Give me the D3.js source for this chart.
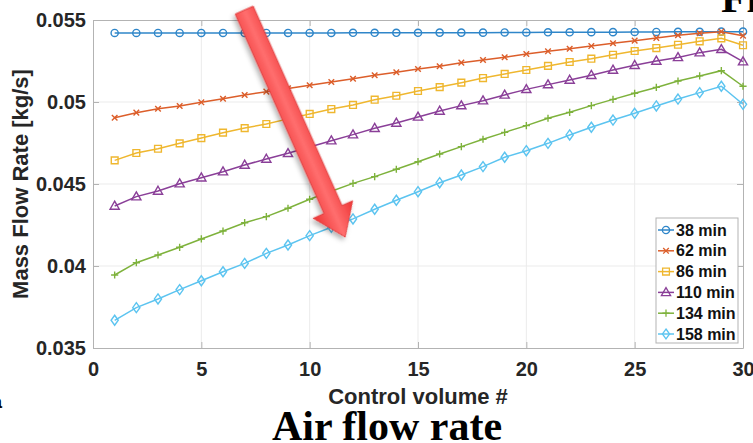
<!DOCTYPE html>
<html>
<head>
<meta charset="utf-8">
<script src="https://cdn.jsdelivr.net/npm/d3@7"></script>
<style>
  body { margin: 0; background: #fff; }
  svg { display: block; }
</style>
</head>
<body>
<div id="chart"></div>
<script>
// control volume numbers along the pipe
var cv = [1,2,3,4,5,6,7,8,9,10,11,12,13,14,15,16,17,18,19,20,21,22,23,24,25,26,27,28,29,30];

// mass flow rate [kg/s], one array per time
var s38  = [0.05421,0.05421,0.05421,0.05421,0.05421,0.05421,0.05421,0.05421,0.05421,0.05421,0.05421,0.05422,0.05422,0.05422,0.05422,0.05423,0.05423,0.05423,0.05424,0.05424,0.05425,0.05425,0.05426,0.05426,0.05427,0.05427,0.05428,0.05428,0.05429,0.05429];
var s62  = [0.04904,0.04935,0.04959,0.04976,0.04998,0.05020,0.05043,0.05063,0.05083,0.05102,0.05122,0.05142,0.05163,0.05181,0.05201,0.05218,0.05240,0.05256,0.05273,0.05293,0.05309,0.05325,0.05341,0.05358,0.05374,0.05390,0.05407,0.05419,0.05429,0.05404];
var s86  = [0.04644,0.04689,0.04715,0.04748,0.04780,0.04813,0.04841,0.04866,0.04897,0.04927,0.04957,0.04982,0.05014,0.05038,0.05067,0.05091,0.05118,0.05146,0.05171,0.05195,0.05220,0.05244,0.05264,0.05288,0.05311,0.05329,0.05349,0.05370,0.05388,0.05346];
var s110 = [0.04366,0.04423,0.04457,0.04502,0.04538,0.04575,0.04616,0.04652,0.04687,0.04726,0.04764,0.04801,0.04840,0.04872,0.04909,0.04945,0.04978,0.05008,0.05043,0.05077,0.05106,0.05134,0.05163,0.05195,0.05224,0.05250,0.05272,0.05301,0.05321,0.05246];
var s134 = [0.03945,0.04020,0.04067,0.04114,0.04165,0.04213,0.04264,0.04301,0.04352,0.04407,0.04456,0.04504,0.04545,0.04590,0.04636,0.04683,0.04728,0.04773,0.04815,0.04856,0.04901,0.04937,0.04978,0.05016,0.05053,0.05089,0.05128,0.05159,0.05191,0.05096];
var s158 = [0.03669,0.03746,0.03799,0.03856,0.03910,0.03965,0.04016,0.04077,0.04128,0.04185,0.04236,0.04287,0.04346,0.04401,0.04453,0.04508,0.04555,0.04606,0.04663,0.04703,0.04748,0.04799,0.04846,0.04890,0.04931,0.04976,0.05018,0.05057,0.05096,0.04986];

var names = ["38 min","62 min","86 min","110 min","134 min","158 min"];
var xTicks = [0,5,10,15,20,25,30];
var yTicks = [0.035,0.04,0.045,0.05,0.055];

var series = [s38, s62, s86, s110, s134, s158];
var colors = ["#2f86c9","#dc5e2a","#efb72f","#8a3f98","#7eb23c","#5cc4f0"]; // matlab-ish
var markers = ["circle","x","square","triangle","plus","diamond"];

var W = 753, H = 443;
var pLeft = 93, pRight = 743, pTop = 20, pBottom = 348; // plot box (don't call it "top", window.top is taken)

var svg = d3.select("#chart").append("svg")
    .attr("width", W)
    .attr("height", H);

var x = d3.scaleLinear().domain([0, 30]).range([pLeft, pRight]);
var y = d3.scaleLinear().domain([0.035, 0.055]).range([pBottom, pTop]);

// grid
svg.append("g").selectAll("line").data(xTicks.slice(1, -1)).enter().append("line")
    .attr("x1", function(d) { return x(d); }).attr("x2", function(d) { return x(d); })
    .attr("y1", pTop).attr("y2", pBottom)
    .attr("stroke", "#ebebeb").attr("stroke-width", 1);
svg.append("g").selectAll("line").data(yTicks.slice(1, -1)).enter().append("line")
    .attr("x1", pLeft).attr("x2", pRight)
    .attr("y1", function(d) { return y(d); }).attr("y2", function(d) { return y(d); })
    .attr("stroke", "#ebebeb").attr("stroke-width", 1);

// axes, ticks pointing inwards like matlab
var fmt = function(d) { return String(+d.toFixed(3)); };
var xAxis = d3.axisBottom(x).tickValues(xTicks).tickSizeInner(-6).tickSizeOuter(0).tickPadding(14);
var yAxis = d3.axisLeft(y).tickValues(yTicks).tickSizeInner(-6).tickSizeOuter(0).tickPadding(7).tickFormat(fmt);

svg.append("g").attr("class", "axis")
    .attr("transform", "translate(0," + pBottom + ")")
    .call(xAxis);
svg.append("g").attr("class", "axis")
    .attr("transform", "translate(" + pLeft + ",0)")
    .call(yAxis);
// top and right ticks, no labels
svg.append("g").attr("class", "axis")
    .attr("transform", "translate(0," + pTop + ")")
    .call(d3.axisTop(x).tickValues(xTicks).tickSizeInner(-6).tickSizeOuter(0).tickFormat(""));
svg.append("g").attr("class", "axis")
    .attr("transform", "translate(" + pRight + ",0)")
    .call(d3.axisRight(y).tickValues(yTicks).tickSizeInner(-6).tickSizeOuter(0).tickFormat(""));

svg.selectAll(".axis path").attr("stroke", "#b3b3b3");
svg.selectAll(".axis line").attr("stroke", "#b3b3b3");
svg.selectAll(".axis text")
    .attr("font-family", "'Liberation Sans', Arial, sans-serif")
    .attr("font-weight", "bold")
    .attr("font-size", 20)
    .attr("fill", "#262626");

// marker shapes
function markerPath(type, cx, cy) {
    var p = d3.path();
    if (type === "circle") {
        p.moveTo(cx + 3.6, cy); p.arc(cx, cy, 3.6, 0, 2 * Math.PI);
    } else if (type === "x") {
        p.moveTo(cx - 2.8, cy - 2.8); p.lineTo(cx + 2.8, cy + 2.8);
        p.moveTo(cx - 2.8, cy + 2.8); p.lineTo(cx + 2.8, cy - 2.8);
    } else if (type === "square") {
        p.rect(cx - 3.4, cy - 3.4, 6.8, 6.8);
    } else if (type === "triangle") {
        p.moveTo(cx, cy - 4.8); p.lineTo(cx + 4.6, cy + 3.2); p.lineTo(cx - 4.6, cy + 3.2); p.closePath();
    } else if (type === "plus") {
        p.moveTo(cx - 3.6, cy); p.lineTo(cx + 3.6, cy);
        p.moveTo(cx, cy - 3.6); p.lineTo(cx, cy + 3.6);
    } else if (type === "diamond") {
        p.moveTo(cx, cy - 5); p.lineTo(cx + 3.6, cy); p.lineTo(cx, cy + 5); p.lineTo(cx - 3.6, cy); p.closePath();
    }
    return p.toString();
}

var line = d3.line()
    .x(function(d, i) { return x(cv[i]); })
    .y(function(d) { return y(d); });

series.forEach(function(s, k) {
    var g = svg.append("g");
    g.append("path")
        .attr("d", line(s))
        .attr("fill", "none")
        .attr("stroke", colors[k])
        .attr("stroke-width", 1.5);
    g.selectAll("path.m").data(s).enter().append("path")
        .attr("class", "m")
        .attr("d", function(d, i) { return markerPath(markers[k], x(cv[i]), y(d)); })
        .attr("fill", "none")
        .attr("stroke", colors[k])
        .attr("stroke-width", 1.4);
});

// the red arrow, placed in data units
var arrowTail = [6.98, 0.0556];
var arrowTip = [11.64, 0.04177];

var defs = svg.append("defs");
var shadow = defs.append("filter").attr("id", "arrowShadow")
    .attr("x", "-20%").attr("y", "-20%").attr("width", "140%").attr("height", "140%");
shadow.append("feDropShadow").attr("dx", 2).attr("dy", 3).attr("stdDeviation", 2.5)
    .attr("flood-color", "#000").attr("flood-opacity", 0.3);

(function() {
    var tx = x(arrowTail[0]), ty = y(arrowTail[1]);
    var hx = x(arrowTip[0]), hy = y(arrowTip[1]);
    var len = Math.sqrt((hx - tx) * (hx - tx) + (hy - ty) * (hy - ty));
    var ang = Math.atan2(hy - ty, hx - tx) * 180 / Math.PI;
    var sw = 9.8, hw = 21.5, hl = 30;
    var pts = [[0, -sw], [len - hl, -sw], [len - hl, -hw], [len, 0], [len - hl, hw], [len - hl, sw], [0, sw]];
    var ag = svg.append("g")
        .attr("transform", "translate(" + tx + "," + ty + ") rotate(" + ang + ")");
    var gradV = defs.append("linearGradient").attr("id", "arrowGradV")
        .attr("gradientUnits", "userSpaceOnUse")
        .attr("x1", 0).attr("y1", -hw).attr("x2", 0).attr("y2", hw);
    gradV.append("stop").attr("offset", "0%").attr("stop-color", "#ee3434");
    gradV.append("stop").attr("offset", "50%").attr("stop-color", "#ff6e6e");
    gradV.append("stop").attr("offset", "100%").attr("stop-color", "#ee3434");
    ag.append("path")
        .attr("d", d3.line()(pts) + "Z")
        .attr("fill", "url(#arrowGradV)")
        .attr("stroke", "#e23a3a")
        .attr("stroke-width", 1)
        .attr("filter", "url(#arrowShadow)");
})();

// legend
var lg = svg.append("g").attr("transform", "translate(656,218)");
lg.append("rect").attr("width", 82).attr("height", 125)
    .attr("fill", "#fff").attr("stroke", "#b3b3b3").attr("stroke-width", 1);
names.forEach(function(n, k) {
    var cy = 12 + k * 20.8;
    lg.append("line").attr("x1", 2).attr("x2", 18).attr("y1", cy).attr("y2", cy)
        .attr("stroke", colors[k]).attr("stroke-width", 1.5);
    lg.append("path").attr("d", markerPath(markers[k], 10, cy))
        .attr("fill", "none").attr("stroke", colors[k]).attr("stroke-width", 1.3);
    lg.append("text").attr("x", 20).attr("y", cy).attr("dy", "0.35em")
        .attr("font-family", "'Liberation Sans', Arial, sans-serif")
        .attr("font-weight", "bold").attr("font-size", 16).attr("fill", "#111")
        .text(n);
});

// axis labels
svg.append("text")
    .attr("x", (pLeft + pRight) / 2).attr("y", 404)
    .attr("text-anchor", "middle")
    .attr("font-family", "'Liberation Sans', Arial, sans-serif")
    .attr("font-weight", "bold").attr("font-size", 22).attr("fill", "#262626")
    .text("Control volume #");
svg.append("text")
    .attr("transform", "translate(28," + (pTop + pBottom) / 2 + ") rotate(-90)")
    .attr("text-anchor", "middle")
    .attr("font-family", "'Liberation Sans', Arial, sans-serif")
    .attr("font-weight", "bold").attr("font-size", 22).attr("fill", "#262626")
    .text("Mass Flow Rate [kg/s]");

// captions from the surrounding figure
svg.append("text")
    .attr("x", 387).attr("y", 440)
    .attr("text-anchor", "middle")
    .attr("font-family", "'Liberation Serif', 'Times New Roman', serif")
    .attr("font-weight", "bold").attr("font-size", 42).attr("fill", "#000")
    .text("Air flow rate");
svg.append("text")
    .attr("x", 721).attr("y", 12)
    .attr("font-family", "'Liberation Serif', 'Times New Roman', serif")
    .attr("font-weight", "bold").attr("font-size", 42).attr("fill", "#000")
    .text("Fl");
svg.append("text")
    .attr("x", -8).attr("y", 408)
    .attr("font-family", "'Liberation Sans', Arial, sans-serif")
    .attr("font-weight", "bold").attr("font-size", 18).attr("fill", "#000")
    .text("a");
</script>
</body>
</html>
